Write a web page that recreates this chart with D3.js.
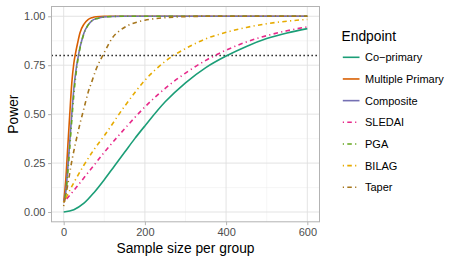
<!DOCTYPE html>
<html>
<head>
<meta charset="utf-8">
<script src="https://cdn.jsdelivr.net/npm/d3@7"></script>
<style>
  body { margin: 0; background: #fff; }
  text { font-family: "Liberation Sans", Arial, sans-serif; }
</style>
</head>
<body>
<svg id="chart" width="458" height="263"></svg>
<script>
// endpoints, in legend order
var endpoints = ["Co\u2212primary", "Multiple Primary", "Composite", "SLEDAI", "PGA", "BILAG", "Taper"];
var colors = ["#1B9E77", "#D95F02", "#7570B3", "#E7298A", "#66A61E", "#E6AB02", "#A6761D"];
var dashed = [false, false, false, true, true, true, true];

// power curves: [sample size, power]
var coPrimary = [[0,0],[25,0.012],[50,0.045],[75,0.1],[100,0.165],[125,0.235],[150,0.305],[175,0.375],[200,0.44],
  [250,0.563],[300,0.66],[350,0.738],[400,0.797],[450,0.846],[500,0.886],[550,0.915],[600,0.937]];
var multiplePrimary = [[0,0.05],[5,0.16],[10,0.33],[15,0.5],[20,0.66],[25,0.76],[30,0.82],[35,0.87],[40,0.915],
  [50,0.96],[60,0.983],[70,0.993],[80,0.998],[100,1],[200,1],[400,1],[600,1]];
var composite = [[0,0.05],[5,0.1],[10,0.22],[15,0.36],[20,0.5],[25,0.63],[30,0.72],[35,0.785],[40,0.84],[45,0.88],
  [50,0.915],[60,0.955],[70,0.978],[85,0.99],[100,0.996],[120,0.999],[150,1],[300,1],[600,1]];
var sledai = [[0,0.05],[25,0.11],[50,0.175],[75,0.24],[100,0.305],[150,0.425],[200,0.537],[250,0.632],[300,0.71],
  [350,0.775],[400,0.827],[450,0.869],[500,0.901],[550,0.926],[600,0.946]];
var pga = [[0,0.05],[5,0.09],[10,0.2],[15,0.33],[20,0.47],[25,0.6],[30,0.7],[35,0.78],[40,0.835],[45,0.878],
  [50,0.912],[60,0.955],[70,0.978],[85,0.99],[100,0.996],[120,0.999],[150,1],[300,1],[600,1]];
var bilag = [[0,0.05],[25,0.15],[50,0.24],[75,0.32],[100,0.39],[150,0.54],[200,0.673],[250,0.77],[300,0.835],
  [350,0.885],[400,0.918],[450,0.943],[500,0.962],[550,0.975],[600,0.984]];
var taper = [[0,0.03],[10,0.14],[20,0.26],[30,0.36],[40,0.45],[50,0.53],[60,0.61],[70,0.67],[80,0.73],[90,0.775],
  [100,0.815],[120,0.89],[140,0.93],[160,0.955],[180,0.97],[200,0.98],[250,0.993],[300,0.998],[350,1],[600,1]];
var series = [coPrimary, multiplePrimary, composite, sledai, pga, bilag, taper];

var xTicks = [0, 200, 400, 600];
var yTicks = [0, 0.25, 0.5, 0.75, 1];
var threshold = 0.8;

var svg = d3.select("#chart");
var pLeft = 51.5, pRight = 319.5, pTop = 6.5, pBottom = 221.8;

var x = d3.scaleLinear().domain([-30, 630]).range([pLeft, pRight]);
var y = d3.scaleLinear().domain([-0.05, 1.05]).range([pBottom, pTop]);

// grid
var g = svg.append("g");
g.selectAll(".minx").data([100, 300, 500]).enter().append("line")
  .attr("x1", d => x(d)).attr("x2", d => x(d)).attr("y1", pTop).attr("y2", pBottom)
  .style("stroke", "#ededed").style("stroke-width", 0.5);
g.selectAll(".miny").data([0.125, 0.375, 0.625, 0.875]).enter().append("line")
  .attr("y1", d => y(d)).attr("y2", d => y(d)).attr("x1", pLeft).attr("x2", pRight)
  .style("stroke", "#ededed").style("stroke-width", 0.5);
g.selectAll(".majx").data(xTicks).enter().append("line")
  .attr("x1", d => x(d)).attr("x2", d => x(d)).attr("y1", pTop).attr("y2", pBottom)
  .style("stroke", "#e0e0e0").style("stroke-width", 0.9);
g.selectAll(".majy").data(yTicks).enter().append("line")
  .attr("y1", d => y(d)).attr("y2", d => y(d)).attr("x1", pLeft).attr("x2", pRight)
  .style("stroke", "#e0e0e0").style("stroke-width", 0.9);

// threshold
svg.append("line")
  .attr("x1", pLeft).attr("x2", pRight).attr("y1", y(threshold)).attr("y2", y(threshold))
  .style("stroke", "#000").style("stroke-width", 1.4).style("stroke-dasharray", "1.3,2.7");

// curves
var line = d3.line().x(d => x(d[0])).y(d => y(d[1])).curve(d3.curveMonotoneX);
svg.append("g").selectAll("path").data(series).enter().append("path")
  .attr("d", line)
  .style("fill", "none")
  .style("stroke", (d, i) => colors[i])
  .style("stroke-width", 1.6)
  .style("stroke-dasharray", (d, i) => dashed[i] ? "1.2,3.3,4.5,3.3" : null);

// panel border
svg.append("rect").attr("x", pLeft).attr("y", pTop).attr("width", pRight - pLeft).attr("height", pBottom - pTop)
  .style("fill", "none").style("stroke", "#b3b3b3").style("stroke-width", 1);

// axes
var xAxis = svg.append("g").attr("transform", "translate(0," + pBottom + ")")
  .call(d3.axisBottom(x).tickValues(xTicks).tickSize(3.4).tickPadding(3));
var yAxis = svg.append("g").attr("transform", "translate(" + pLeft + ",0)")
  .call(d3.axisLeft(y).tickValues(yTicks).tickFormat(d3.format(".2f")).tickSize(3.4).tickPadding(2.6));
[xAxis, yAxis].forEach(function(a) {
  a.select(".domain").remove();
  a.selectAll(".tick line").style("stroke", "#b3b3b3");
  a.selectAll(".tick text").style("fill", "#4d4d4d").style("font-size", "11px")
    .style("font-family", "'Liberation Sans', Arial, sans-serif");
});

svg.append("text").attr("x", (pLeft + pRight) / 2).attr("y", 252.5)
  .style("text-anchor", "middle").style("font-size", "13.8px").style("fill", "#000")
  .text("Sample size per group");
svg.append("text").attr("transform", "translate(18.3," + (pTop + pBottom) / 2 + ") rotate(-90)")
  .style("text-anchor", "middle").style("font-size", "13.8px").style("fill", "#000")
  .text("Power");

// legend
var legend = svg.append("g");
legend.append("text").attr("x", 341.5).attr("y", 40.5)
  .style("font-size", "13.8px").style("fill", "#000").text("Endpoint");
var items = legend.selectAll(".item").data(endpoints).enter().append("g")
  .attr("transform", (d, i) => "translate(0," + (57.3 + i * 21.67) + ")");
items.append("line").attr("x1", 342.8).attr("x2", 359.5).attr("y1", 0).attr("y2", 0)
  .style("stroke", (d, i) => colors[i]).style("stroke-width", 1.6)
  .style("stroke-dasharray", (d, i) => dashed[i] ? "1.2,3.3,4.5,3.3" : null);
items.append("text").attr("x", 365).attr("y", 3.9)
  .style("font-size", "11px").style("fill", "#000").text(d => d);
</script>
</body>
</html>
